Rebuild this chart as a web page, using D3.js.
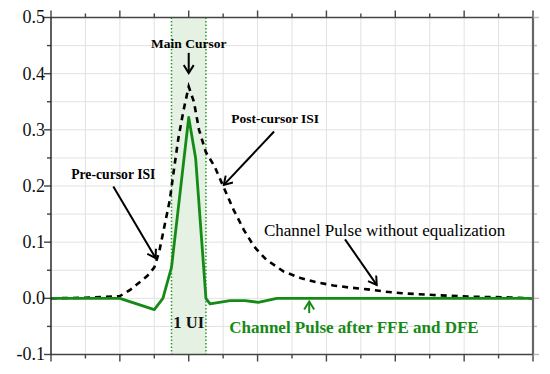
<!DOCTYPE html>
<html>
<head>
<meta charset="utf-8">
<script src="https://cdn.jsdelivr.net/npm/d3@7"></script>
<style>
  body { margin: 0; background: #fff; }
  text { font-family: 'Liberation Serif', 'Times New Roman', serif; }
</style>
</head>
<body>
<div id="chart-area"></div>
<script>
// Data (x in UI index, y in volts)
const rawX = [0, 1, 2, 2.3, 2.5, 2.8, 3.0, 3.15, 3.3, 3.45, 3.55, 3.7, 3.85, 4.0, 4.15, 4.3, 4.5, 4.75, 5.0, 5.3, 5.6, 5.9, 6.25, 6.75, 7.25, 7.75, 8.2, 8.7, 9.2, 9.7, 10.2, 11.1, 12.1, 13.1, 14]
const rawY = [0.0, 0.001, 0.004, 0.015, 0.025, 0.04, 0.055, 0.085, 0.13, 0.175, 0.22, 0.285, 0.335, 0.377, 0.35, 0.30, 0.26, 0.235, 0.20, 0.158, 0.122, 0.092, 0.069, 0.048, 0.036, 0.028, 0.023, 0.019, 0.016, 0.012, 0.009, 0.006, 0.003, 0.002, 0.0]
const eqX = [0, 2, 3, 3.25, 3.5, 4.0, 4.2, 4.5, 4.62, 5.2, 5.63, 6.02, 6.56, 14]
const eqY = [0, 0, -0.02, 0, 0.055, 0.322, 0.25, 0.0, -0.01, -0.004, -0.004, -0.007, 0, 0]
const xTicks = d3.range(0, 15)
const yTicks = d3.range(-0.1, 0.501, 0.05).map(v => +v.toFixed(2))
const yLabels = [-0.1, 0.0, 0.1, 0.2, 0.3, 0.4, 0.5]
const uiBand = [3.5, 4.5]

const canvas = { width: 550, height: 374 }
const plot = { left: 51, right: 533, top: 17.5, bottom: 354.5 }
const green = '#168a16'

const svg = d3.select('#chart-area')
	.append('svg')
		.attr('width', canvas.width)
		.attr('height', canvas.height)

// Scales
const x = d3.scaleLinear().domain([0, 14]).range([plot.left, plot.right])
const y = d3.scaleLinear().domain([-0.1, 0.5]).range([plot.bottom, plot.top])

// Grid
svg.append('g').selectAll('line').data(xTicks).join('line')
	.attr('x1', d => x(d)).attr('x2', d => x(d))
	.attr('y1', plot.top).attr('y2', plot.bottom)
	.attr('stroke', '#e2e2e2').attr('stroke-width', 1)
svg.append('g').selectAll('line').data(yTicks).join('line')
	.attr('x1', plot.left).attr('x2', plot.right)
	.attr('y1', d => y(d)).attr('y2', d => y(d))
	.attr('stroke', '#e2e2e2').attr('stroke-width', 1)

// 1 UI band
svg.append('rect')
	.attr('x', x(uiBand[0]))
	.attr('y', plot.top)
	.attr('width', x(uiBand[1]) - x(uiBand[0]))
	.attr('height', plot.bottom - plot.top)
	.attr('fill', '#e5f1e3')
uiBand.forEach(b => {
	svg.append('line')
		.attr('x1', x(b)).attr('x2', x(b))
		.attr('y1', plot.top).attr('y2', plot.bottom)
		.attr('stroke', '#2a9a2a').attr('stroke-width', 1.5)
		.attr('stroke-dasharray', '1.5,2')
})

// Curves
const line = d3.line().x(d => x(d[0])).y(d => y(d[1]))
svg.append('path')
	.datum(d3.zip(rawX, rawY))
	.attr('d', line)
	.attr('fill', 'none')
	.attr('stroke', '#000')
	.attr('stroke-width', 2.6)
	.attr('stroke-dasharray', '6,5')
svg.append('path')
	.datum(d3.zip(eqX, eqY))
	.attr('d', line)
	.attr('fill', 'none')
	.attr('stroke', green)
	.attr('stroke-width', 2.8)
	.attr('stroke-linejoin', 'round')

// Axes frame
const isMajorX = d => d % 2 === 0
const isMajorY = d => Math.abs(Math.round(d * 10) - d * 10) < 1e-6
const frame = svg.append('g').attr('stroke', '#444').attr('stroke-width', 1.4)
frame.selectAll('.tb').data(xTicks).join('line')
	.attr('x1', d => x(d)).attr('x2', d => x(d))
	.attr('y1', plot.bottom).attr('y2', d => plot.bottom + (isMajorX(d) ? 7 : 4))
frame.selectAll('.tt').data(xTicks).join('line')
	.attr('x1', d => x(d)).attr('x2', d => x(d))
	.attr('y1', plot.top).attr('y2', d => plot.top - (isMajorX(d) ? 7 : 4))
frame.selectAll('.tl').data(yTicks).join('line')
	.attr('x1', plot.left).attr('x2', d => plot.left - (isMajorY(d) ? 7 : 4))
	.attr('y1', d => y(d)).attr('y2', d => y(d))
frame.selectAll('.tr').data(yTicks).join('line')
	.attr('x1', plot.right).attr('x2', d => plot.right + (isMajorY(d) ? 6 : 4))
	.attr('y1', d => y(d)).attr('y2', d => y(d))
	.attr('stroke', '#bbb')
frame.append('line').attr('x1', plot.left).attr('x2', plot.right).attr('y1', plot.top).attr('y2', plot.top)
frame.append('line').attr('x1', plot.left).attr('x2', plot.right).attr('y1', plot.bottom).attr('y2', plot.bottom)
frame.append('line').attr('x1', plot.left).attr('x2', plot.left).attr('y1', plot.top).attr('y2', plot.bottom).attr('stroke', '#222')
frame.append('line').attr('x1', plot.right).attr('x2', plot.right).attr('y1', plot.top).attr('y2', plot.bottom)
	.attr('stroke', '#666').attr('stroke-width', 2.2)

svg.append('g').selectAll('text').data(yLabels).join('text')
	.attr('x', 45)
	.attr('y', d => y(d))
	.attr('dy', '0.33em')
	.attr('text-anchor', 'end')
	.attr('font-size', 18)
	.attr('fill', '#111')
	.text(d => d.toFixed(1))

// Arrow markers
const defs = svg.append('defs')
function marker(id, color) {
	defs.append('marker')
		.attr('id', id)
		.attr('viewBox', '-10 -6 12 12')
		.attr('refX', 0).attr('refY', 0)
		.attr('markerWidth', 12).attr('markerHeight', 12)
		.attr('markerUnits', 'userSpaceOnUse')
		.attr('orient', 'auto')
	.append('path')
		.attr('d', 'M-8,-5 L0,0 L-8,5')
		.attr('fill', 'none')
		.attr('stroke', color)
		.attr('stroke-width', 2)
}
marker('ah', '#000')
marker('ahg', green)

function arrow(x1, y1, x2, y2, color, id) {
	svg.append('line')
		.attr('x1', x(x1)).attr('y1', y(y1))
		.attr('x2', x(x2)).attr('y2', y(y2))
		.attr('stroke', color).attr('stroke-width', 2)
		.attr('marker-end', `url(#${id})`)
}
function label(tx, ty, str, size, weight, color) {
	svg.append('text')
		.attr('x', x(tx)).attr('y', y(ty))
		.attr('text-anchor', 'middle')
		.attr('font-size', size)
		.attr('font-weight', weight)
		.attr('fill', color)
		.text(str)
}

label(4.0, 0.446, 'Main Cursor', 13.5, 'bold', '#000')
arrow(4.0, 0.437, 4.0, 0.401, '#000', 'ah')
label(1.81, 0.212, 'Pre-cursor ISI', 13.7, 'bold', '#000')
arrow(1.81, 0.199, 3.04, 0.0716, '#000', 'ah')
label(6.51, 0.312, 'Post-cursor ISI', 13.5, 'bold', '#000')
arrow(6.48, 0.297, 5.02, 0.202, '#000', 'ah')
label(9.69, 0.111, 'Channel Pulse without equalization', 17, 'normal', '#000')
arrow(8.54, 0.105, 9.46, 0.024, '#000', 'ah')
label(4.0, -0.0535, '1 UI', 16.5, 'bold', '#111')
label(8.8, -0.0625, 'Channel Pulse after FFE and DFE', 17, 'bold', green)
arrow(7.5, -0.0263, 7.5, -0.0057, green, 'ahg')
</script>
</body>
</html>
